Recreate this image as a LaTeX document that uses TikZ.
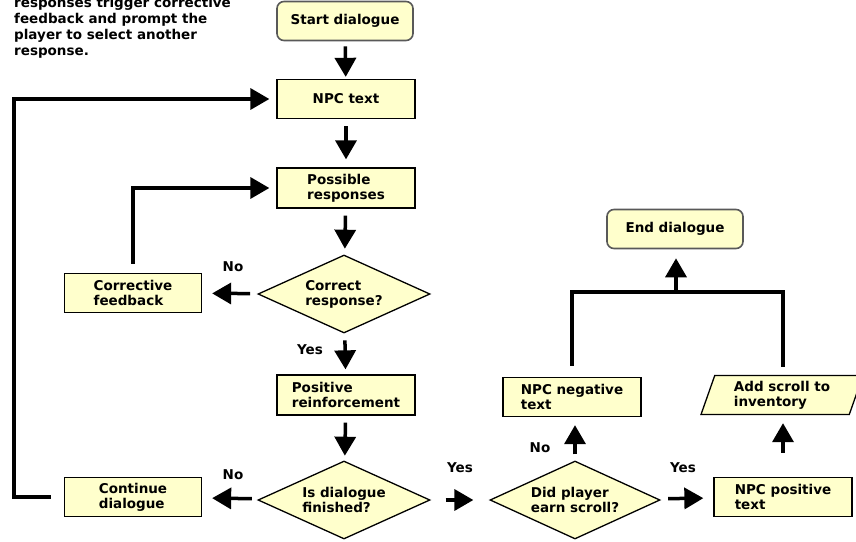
\documentclass[tikz,border=0pt]{standalone}
\usepackage{fontspec}
\setmainfont{DejaVu Sans}
\usetikzlibrary{shapes.geometric, arrows.meta, positioning}
\definecolor{pale}{RGB}{255,255,204}
\tikzstyle{pix}=[x=1pt,y=-1pt]
\tikzstyle{txt}=[font=\fontsize{13.5}{15}\selectfont\bfseries]
\tikzstyle{blk}=[txt,draw,fill=pale,line width=1.3pt,minimum width=138pt,minimum height=39pt,inner sep=0pt,align=left]
\tikzstyle{term}=[blk,draw=black!65,line width=1.6pt,rounded corners=7pt,minimum width=136pt]
\tikzstyle{dia}=[blk,diamond,aspect=2.2,minimum width=172pt,minimum height=78pt]
\tikzstyle{io}=[blk,trapezium,trapezium left angle=64,trapezium right angle=116,trapezium stretches body,minimum width=162pt]
\tikzstyle{lnk}=[line width=3.5pt]
\tikzstyle{jmp}=[lnk,-{Triangle[width=21pt,length=19pt]},shorten <=7pt,shorten >=6pt]
\tikzstyle{lbl}=[txt,inner sep=0pt]
\tikzstyle{note}=[txt,inner sep=0pt,align=left,anchor=base west,
                  font=\fontsize{13.5}{16}\selectfont\bfseries]

\begin{document}
\begin{tikzpicture}[pix]
  \useasboundingbox (0,0) rectangle (856,541);
  \clip (0,0) rectangle (856,541);
  \node[note] (hint) at (14,55) {responses trigger corrective\\feedback and prompt the\\player to select another\\response.};
  % main column
  \node[term] (start) at (345,21) {Start dialogue};
  \node[blk] (npc) at (346,99) {NPC text};
  \node[blk,minimum height=40pt] (poss) at (346,188) {Possible\\responses};
  \node[dia] (corr) at (344,294) {Correct\\response?};
  \node[blk,minimum width=137pt] (fb) at (133,293) {Corrective\\feedback};
  \node[blk,minimum height=40pt] (pos) at (346,395) {Positive\\reinforcement};
  \node[dia] (fin) at (344,500) {Is dialogue\\finished?};
  \node[blk,minimum width=137pt] (cont) at (133,497) {Continue\\dialogue};
  % scroll branch
  \node[dia,minimum width=170pt] (earn) at (575,500) {Did player\\earn scroll?};
  \node[blk] (neg) at (572,397) {NPC negative\\text};
  \node[blk] (pos2) at (783,497) {NPC positive\\text};
  \node[io] (scroll) at (782,395) {Add scroll to\\inventory};
  \node[term] (endd) at (675,229) {End dialogue};
  \coordinate (join) at (676,292);
  \coordinate (left) at (14,300);
  % connectors
  \draw[jmp,shorten <=5pt,shorten >=2pt] (start) -- (npc);
  \draw[jmp,shorten >=8pt] (npc) -- (poss);
  \draw[jmp] (poss) -- (corr);
  \draw[jmp,shorten <=8pt,shorten >=10pt] (corr) -- (fb);
  \draw[jmp,shorten >=5pt] (corr) -- (pos);
  \draw[jmp,shorten >=5pt] (pos) -- (fin);
  \draw[jmp,shorten <=8pt,shorten >=10pt] (fin) -- (cont);
  \draw[jmp,shorten <=15pt,shorten >=16pt] (fin) -- (earn);
  \draw[jmp,shorten <=6pt,shorten >=8pt] (earn.north) -- (neg.south -| earn.north);
  \draw[jmp,shorten <=10pt,shorten >=10pt] (earn) -- (pos2);
  \draw[jmp,shorten <=24pt,shorten >=8pt] (pos2.north) -- (scroll.south -| pos2.north);
  \draw[jmp,shorten <=9pt,shorten >=7pt] (fb.north) |- (poss.west);
  \draw[jmp,shorten <=13pt,shorten >=7pt] (cont.west) -| (left) |- (npc.west);
  \draw[lnk,shorten <=11pt,line join=miter] (neg.north) |- (join);
  \draw[lnk,shorten <=8pt,line join=miter] (scroll.north -| pos2.north) |- (join);
  \draw[jmp,shorten <=0pt,shorten >=9pt] (join) -- (endd.south -| join);
  % labels
  \node[lbl] (no1) at (233,267) {No};
  \node[lbl] (yes1) at (310,350) {Yes};
  \node[lbl] (no2) at (233,475) {No};
  \node[lbl] (yes2) at (460,468) {Yes};
  \node[lbl] (no3) at (540,448) {No};
  \node[lbl] (yes3) at (683,468) {Yes};
\end{tikzpicture}
\end{document}
